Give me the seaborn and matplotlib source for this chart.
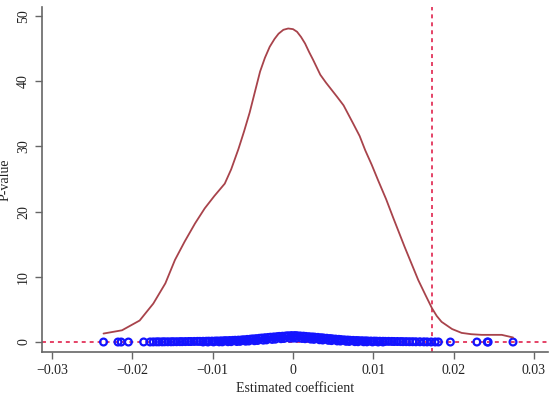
import numpy as np
import pandas as pd
import seaborn as sns
import matplotlib.pyplot as plt

sns.set_style('ticks')
plt.rcParams['font.family'] = ['Liberation Serif', 'DejaVu Serif']

# Kernel density of the placebo coefficients
kde_x = [-0.0236, -0.0213, -0.0191, -0.0174, -0.0159, -0.0147, -0.0135, -0.0122,
         -0.0110, -0.0098, -0.0085, -0.0077, -0.0068, -0.0061, -0.0054, -0.0047,
         -0.0041, -0.0035, -0.0029, -0.0023, -0.0018, -0.0012, -0.0006, 0.0000,
         0.0005, 0.0010, 0.0015, 0.0020, 0.0025, 0.0034, 0.0041, 0.0048,
         0.0055, 0.0063, 0.0075, 0.0083, 0.0090, 0.0098, 0.0106, 0.0116,
         0.0125, 0.0139, 0.0148, 0.0156, 0.0165, 0.0173, 0.0179, 0.0185,
         0.0198, 0.0210, 0.0222, 0.0235, 0.0260, 0.0274]
kde_y = [1.3, 1.8, 3.3, 5.9, 9.0, 12.6, 15.4, 18.2,
         20.5, 22.4, 24.3, 26.5, 29.6, 32.3, 35.2, 38.6,
         41.5, 43.6, 45.3, 46.5, 47.3, 47.9, 48.1, 48.0,
         47.6, 46.8, 45.8, 44.5, 43.3, 41.0, 39.8, 38.7,
         37.6, 36.3, 33.5, 31.6, 29.4, 27.2, 24.8, 21.9,
         19.0, 14.6, 11.9, 9.5, 7.2, 5.2, 4.0, 3.1,
         2.0, 1.4, 1.2, 1.1, 1.1, 0.7]

# Estimated coefficients and p-values (upper edge of the dense band)
coef_upper = [-0.0174, -0.0170, -0.0167, -0.0163, -0.0160, -0.0156, -0.0152, -0.0149,
              -0.0145, -0.0141, -0.0138, -0.0134, -0.0130, -0.0127, -0.0123, -0.0119,
              -0.0116, -0.0112, -0.0108, -0.0105, -0.0101, -0.0097, -0.0094, -0.0090,
              -0.0086, -0.0083, -0.0079, -0.0075, -0.0072, -0.0068, -0.0064, -0.0061,
              -0.0057, -0.0053, -0.0050, -0.0046, -0.0042, -0.0039, -0.0035, -0.0031,
              -0.0028, -0.0024, -0.0020, -0.0017, -0.0013, -0.0009, -0.0006, -0.0002,
              0.0002, 0.0005, 0.0009, 0.0013, 0.0016, 0.0020, 0.0024, 0.0027,
              0.0031, 0.0035, 0.0038, 0.0042, 0.0046, 0.0049, 0.0053, 0.0057,
              0.0060, 0.0064, 0.0068, 0.0071, 0.0075, 0.0079, 0.0082, 0.0086,
              0.0090, 0.0093, 0.0097, 0.0101, 0.0104, 0.0108, 0.0112, 0.0115,
              0.0119, 0.0123, 0.0126, 0.0130, 0.0134, 0.0137, 0.0141, 0.0145,
              0.0149, 0.0153, 0.0158, 0.0163]
p_upper = [0.02, 0.03, 0.03, 0.03, 0.04, 0.04, 0.04, 0.05,
           0.05, 0.06, 0.06, 0.07, 0.08, 0.08, 0.09, 0.10,
           0.10, 0.11, 0.12, 0.13, 0.14, 0.15, 0.16, 0.18,
           0.20, 0.21, 0.23, 0.25, 0.27, 0.29, 0.32, 0.35,
           0.40, 0.44, 0.48, 0.52, 0.57, 0.61, 0.66, 0.70,
           0.74, 0.78, 0.82, 0.86, 0.89, 0.93, 0.96, 0.99,
           0.99, 0.97, 0.93, 0.90, 0.86, 0.82, 0.78, 0.75,
           0.71, 0.66, 0.62, 0.58, 0.53, 0.49, 0.45, 0.41,
           0.37, 0.33, 0.30, 0.27, 0.25, 0.23, 0.21, 0.20,
           0.18, 0.16, 0.15, 0.14, 0.13, 0.12, 0.11, 0.10,
           0.10, 0.09, 0.08, 0.08, 0.07, 0.06, 0.06, 0.05,
           0.05, 0.04, 0.04, 0.03]

# lower edge of the band
coef_lower = [-0.0112, -0.0106, -0.0099, -0.0092, -0.0088, -0.0081, -0.0077, -0.0070,
              -0.0066, -0.0059, -0.0055, -0.0048, -0.0044, -0.0037, -0.0033, -0.0026,
              -0.0022, -0.0015, -0.0011, -0.0004, 0.0000, 0.0004, 0.0011, 0.0015,
              0.0022, 0.0026, 0.0033, 0.0037, 0.0044, 0.0048, 0.0055, 0.0059,
              0.0066, 0.0070, 0.0077, 0.0081, 0.0088, 0.0092, 0.0099, 0.0106, 0.0112]
p_lower = [0.01, 0.01, 0.02, 0.03, 0.03, 0.05, 0.06, 0.08,
           0.10, 0.13, 0.16, 0.20, 0.24, 0.29, 0.33, 0.40,
           0.44, 0.51, 0.55, 0.59, 0.60, 0.59, 0.55, 0.51,
           0.45, 0.41, 0.35, 0.31, 0.26, 0.22, 0.17, 0.15,
           0.11, 0.09, 0.06, 0.05, 0.04, 0.03, 0.02, 0.01, 0.01]

# isolated points in the tails
coef_tail = [-0.0236, -0.0218, -0.0214, -0.0205, -0.0186, -0.0178,
             0.0167, 0.0172, 0.0177, 0.0181, 0.0196, 0.0229, 0.0242, 0.0243, 0.0274]
p_tail = [0.00, 0.00, 0.00, 0.00, 0.01, 0.01,
          0.02, 0.01, 0.01, 0.01, 0.00, 0.00, 0.00, 0.00, 0.00]

true_coef = 0.0173

x_ticks = [-0.03, -0.02, -0.01, 0, 0.01, 0.02, 0.03]
x_labels = ['\u22120.03', '\u22120.02', '\u22120.01', '0', '0.01', '0.02', '0.03']
y_ticks = [0, 10, 20, 30, 40, 50]

points = pd.DataFrame({
    'coef': coef_upper + coef_lower + coef_tail,
    'pval': p_upper + p_lower + p_tail,
})
kde = pd.DataFrame({'coef': kde_x, 'density': kde_y})

fig = plt.figure(figsize=(5.5, 3.99), dpi=100)
ax = fig.add_axes([0.0764, 0.1178, 0.92, 0.8647])

red = '#e3345a'
ax.axhline(0, color=red, lw=1.3, dashes=(2.2, 2.2), zorder=1)
ax.axvline(true_coef, color=red, lw=1.3, dashes=(2.2, 2.2), zorder=1)

sns.scatterplot(data=points, x='coef', y='pval', ax=ax, marker='o', s=24,
                facecolor='none', edgecolor='#1414ff', linewidth=1.6, zorder=2)
sns.lineplot(data=kde, x='coef', y='density', ax=ax, color='#a8434b', lw=1.3,
             zorder=3)

ax.set_xlim(-0.03126, 0.03176)
ax.set_ylim(-1.53, 51.4)
ax.set_xticks(x_ticks)
ax.set_xticklabels(x_labels)
ax.set_yticks(y_ticks)
ax.set_yticklabels([str(v) for v in y_ticks], rotation=90, va='center')

ax.set_xlabel('Estimated coefficient', fontsize=10, color='#222222', labelpad=4)
ax.set_ylabel('P-value', fontsize=10, color='#222222', labelpad=4)
ax.tick_params(axis='both', labelsize=10, labelcolor='#222222', color='#666666',
               length=5, width=1, direction='out')
for side in ['top', 'right']:
    ax.spines[side].set_visible(False)
for side in ['left', 'bottom']:
    ax.spines[side].set_color('#666666')
    ax.spines[side].set_linewidth(1.2)

plt.savefig('out.png', dpi=100)
